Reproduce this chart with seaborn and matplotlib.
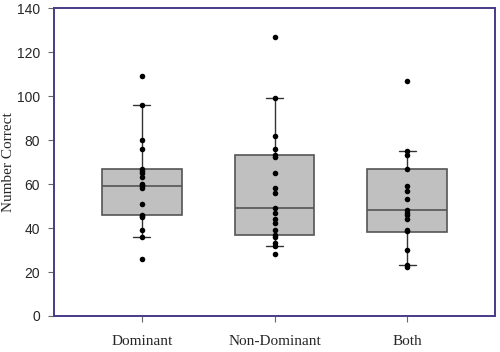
import pandas as pd
import matplotlib
matplotlib.use("Agg")
import matplotlib.pyplot as plt
import seaborn as sns

# Groups shown on the x axis
groups = ["Dominant", "Non-Dominant", "Both"]

# Individual scores
dominant = [109, 96, 80, 76, 67, 66, 65, 63, 60, 59.5, 59, 58, 51, 46, 45.5, 45, 39, 36, 26]
non_dominant = [127, 99, 82, 76, 73, 72.5, 65, 58, 56, 49, 47, 44, 42.5, 39, 37, 36, 33, 32, 28]
both = [107, 75, 73, 67, 59, 57, 53, 48, 47, 46, 44, 39, 38.5, 30, 23, 22.5]

# Box summary (10th/90th percentile whiskers, as in the original)
medians = [59, 49, 48]
q1 = [46, 37, 38]
q3 = [67, 73, 67]
whis_low = [36, 32, 23]
whis_high = [96, 99, 75]

df = pd.DataFrame({
    "group": ["Dominant"] * len(dominant) + ["Non-Dominant"] * len(non_dominant) + ["Both"] * len(both),
    "score": dominant + non_dominant + both,
})

sns.set_style("white")
fig = plt.figure(figsize=(5, 3.52), dpi=100)
ax = fig.add_axes([0.108, 0.1023, 0.882, 0.8747])

stats = []
for i, g in enumerate(groups):
    stats.append({
        "label": g, "med": medians[i], "q1": q1[i], "q3": q3[i],
        "whislo": whis_low[i], "whishi": whis_high[i], "fliers": [],
    })

ax.bxp(
    stats, positions=range(len(groups)), widths=0.6, patch_artist=True,
    boxprops=dict(facecolor="#c0c0c0", edgecolor="#555555", linewidth=1.2),
    medianprops=dict(color="#555555", linewidth=1.2),
    whiskerprops=dict(color="#333333", linewidth=1.0),
    capprops=dict(color="#333333", linewidth=1.0),
    capwidths=0.13,
    zorder=2,
)

sns.stripplot(data=df, x="group", y="score", order=groups, jitter=False,
              color="black", size=4, ax=ax, zorder=3)

ax.set_xlim(-0.66, 2.66)
ax.set_ylim(0, 140)
ax.set_yticks(range(0, 141, 20))
ax.set_xticks(range(len(groups)))
ax.set_xticklabels(groups, fontfamily="Liberation Serif", fontsize=11)
for lab in ax.get_yticklabels():
    lab.set_fontfamily("Liberation Sans")
    lab.set_fontsize(10)
ax.set_xlabel("")
ax.set_ylabel("Number Correct", fontfamily="Liberation Serif", fontsize=11)
ax.yaxis.set_label_coords(-0.088, 0.5)

frame_color = "#4a3a8a"
for s in ax.spines.values():
    s.set_color(frame_color)
    s.set_linewidth(1.4)
ax.tick_params(axis="y", which="both", left=True, length=4, width=0.8, color="#666666", pad=6)
ax.tick_params(axis="x", which="both", bottom=True, length=4, width=0.8, color="#666666", pad=10)

fig.savefig("out.png", dpi=100)
